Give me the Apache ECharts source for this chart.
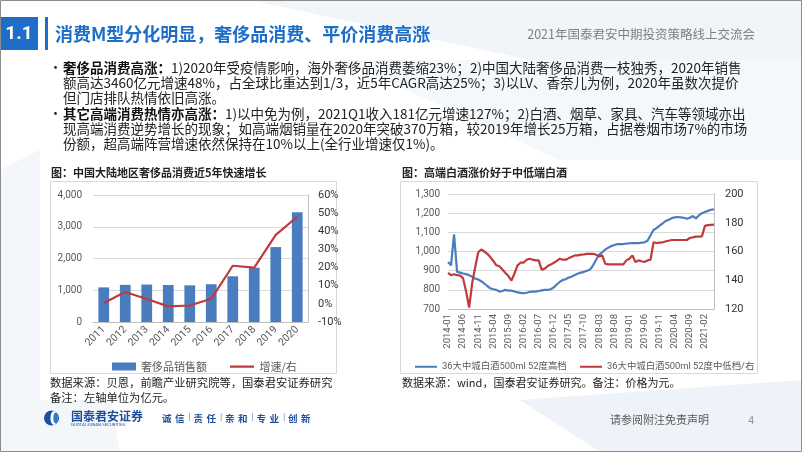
<!DOCTYPE html>
<html><head><meta charset="utf-8">
<script src="https://cdn.jsdelivr.net/npm/echarts@6/dist/echarts.min.js"></script>
<style>html,body{margin:0;padding:0;background:#fff;overflow:hidden}#c{width:802px;height:452px}</style>
</head><body><div id="c"></div><script>
// ---------- Left chart data ----------
const years = ['2011','2012','2013','2014','2015','2016','2017','2018','2019','2020'];
const luxurySales = [1090,1170,1180,1165,1155,1190,1440,1710,2360,3460];
const luxuryGrowth = [0.5,6.5,2.7,-1.4,-0.9,2.8,21,20,38,48];
const leftNames = ['奢侈品销售额','增速/右'];

// ---------- Right chart data ----------
const months = [
 '2014-01','2014-02','2014-03','2014-04','2014-05','2014-06','2014-07','2014-08','2014-09','2014-10','2014-11','2014-12',
 '2015-01','2015-02','2015-03','2015-04','2015-05','2015-06','2015-07','2015-08','2015-09','2015-10','2015-11','2015-12',
 '2016-01','2016-02','2016-03','2016-04','2016-05','2016-06','2016-07','2016-08','2016-09','2016-10','2016-11','2016-12',
 '2017-01','2017-02','2017-03','2017-04','2017-05','2017-06','2017-07','2017-08','2017-09','2017-10','2017-11','2017-12',
 '2018-01','2018-02','2018-03','2018-04','2018-05','2018-06','2018-07','2018-08','2018-09','2018-10','2018-11','2018-12',
 '2019-01','2019-02','2019-03','2019-04','2019-05','2019-06','2019-07','2019-08','2019-09','2019-10','2019-11','2019-12',
 '2020-01','2020-02','2020-03','2020-04','2020-05','2020-06','2020-07','2020-08','2020-09','2020-10','2020-11','2020-12',
 '2021-01','2021-02','2021-03','2021-04','2021-05'];
const highEnd = [
 945,928,1090,894,890,885,882,876,868,859,854,845,
 833,820,808,803,800,791,794,800,796,796,791,787,
 784,782,785,789,791,791,794,797,800,800,803,813,
 828,842,851,856,864,870,878,885,890,894,900,906,
 928,957,984,996,1010,1020,1028,1034,1038,1039,1039,1041,
 1043,1044,1044,1044,1046,1048,1056,1085,1112,1122,1135,1146,
 1159,1166,1174,1178,1180,1178,1176,1171,1176,1185,1173,1188,
 1200,1206,1212,1218,1220];
const midLow = [
 145.1,143.5,144.2,143.5,143.3,141.3,132,121,138,149,159.5,161.4,
 160,158.4,156.1,153.4,150.4,149.7,147.4,145.1,142.9,139.7,144.7,150.4,
 152.2,152.2,154.3,155,154.3,153.8,153.8,147.4,148.1,149.9,150.9,152.2,
 153.4,155,154.3,154.3,155.4,156.3,157.3,157.3,157.8,158,158.4,158.4,
 158.4,157.7,156.6,157.3,151.5,151,151,151,151,151,151,153.8,
 155,157.3,152.7,153.8,153.2,152.7,153.8,154.3,166.4,165.9,166.2,166.4,
 167,167.5,168,168,168,168,168,168,169.4,169.8,170.3,170.4,
 170.5,177.8,178.3,178.5,178.7];
const rightNames = ['36大中城白酒500ml 52度高档','36大中城白酒500ml 52度中低档/右'];

// ---------- Slide texts ----------
const sectionNo = '1.1';
const slideTitle = '消费M型分化明显，奢侈品消费、平价消费高涨';
const eventName = '2021年国泰君安中期投资策略线上交流会';
const bodyLines = [
 ['•','{b|奢侈品消费高涨：}1)2020年受疫情影响，海外奢侈品消费萎缩23%；2)中国大陆奢侈品消费一枝独秀，2020年销售'],
 ['','额高达3460亿元增速48%，占全球比重达到1/3，近5年CAGR高达25%；3)以LV、香奈儿为例，2020年虽数次提价'],
 ['','但门店排队热情依旧高涨。'],
 ['•','{b|其它高端消费热情亦高涨：}1)以中免为例，2021Q1收入181亿元增速127%；2)白酒、烟草、家具、汽车等领域亦出'],
 ['','现高端消费逆势增长的现象；如高端烟销量在2020年突破370万箱，较2019年增长25万箱，占据卷烟市场7%的市场'],
 ['','份额，超高端阵营增速依然保持在10%以上(全行业增速仅1%)。']
];
const leftTitle = '图：中国大陆地区奢侈品消费近5年快速增长';
const rightTitle = '图：高端白酒涨价好于中低端白酒';
const leftSource = ['数据来源：贝恩，前瞻产业研究院等，国泰君安证券研究','备注：左轴单位为亿元。'];
const rightSource = '数据来源：wind，国泰君安证券研究。备注：价格为元。';
const sloganGroups = [['诚','信'],['责','任'],['亲','和'],['专','业'],['创','新']];
const footerNote = '请参阅附注免责声明';
const pageNo = '4';

const FONT = '"Noto Sans CJK SC","Noto Sans",sans-serif';
const LAT = 'Roboto,"Noto Sans CJK SC",sans-serif';
const BLUE = '#1e6ec8';
const C_BAR = '#4a7dbf';
const C_RED = '#c0393b';
const AX = '#595959';
// thin-line legend icon (slivers at top/bottom keep the 8px box)
const LINE_ICON = 'path://M0,0L24,0L24,0.01L0,0.01Z M0,3L24,3L24,5.2L0,5.2Z M0,8L24,8L24,8.01L0,8.01Z';

function txt(x, y, text, size, color, opts) {
  opts = opts || {};
  return {type:'text', x:x, y:y, z:10, silent:true, style:Object.assign({
    text:text, fill:color, fontSize:size, fontFamily:opts.family||FONT, fontWeight:opts.weight||'normal',
    textAlign:opts.align||'left', textVerticalAlign:'middle', align:opts.align||'left', verticalAlign:'middle'
  }, opts.extra||{})};
}

const graphics = [];
// faint background shapes
graphics.push({type:'polygon', z:-5, silent:true, shape:{points:[[250,0],[802,0],[802,60],[530,60]]}, style:{fill:'#f1f5fa'}});
graphics.push({type:'polygon', z:-5, silent:true, shape:{points:[[340,60],[802,60],[802,160],[560,160]]}, style:{fill:'#f5f8fb'}});
graphics.push({type:'polygon', z:-5, silent:true, shape:{points:[[0,170],[40,150],[40,452],[0,452]]}, style:{fill:'#f3f6fa'}});
graphics.push({type:'polygon', z:-5, silent:true, shape:{points:[[520,400],[802,380],[802,452],[600,452]]}, style:{fill:'#eef3f9'}});
graphics.push({type:'polygon', z:-5, silent:true, shape:{points:[[0,400],[110,400],[120,452],[0,452]]}, style:{fill:'#f4f7fa'}});
// frame
graphics.push({type:'rect', z:20, silent:true, shape:{x:0.5,y:0.5,width:801,height:451}, style:{fill:null, stroke:'#8c8c8c', lineWidth:1}});
// header
graphics.push({type:'rect', z:5, silent:true, shape:{x:0,y:17,width:38,height:33}, style:{fill:BLUE}});
graphics.push(txt(19, 34, sectionNo, 19, '#fff', {weight:'bold', align:'center', family:LAT}));
graphics.push({type:'rect', z:5, silent:true, shape:{x:45,y:17,width:3,height:33}, style:{fill:BLUE}});
graphics.push(txt(55, 34, slideTitle, 18, BLUE, {weight:'bold'}));
graphics.push(txt(755, 34, eventName, 12.5, '#7f7f7f', {align:'right'}));
// body
bodyLines.forEach((l, i) => {
  const y = 67.5 + 15.3 * i;
  if (l[0]) graphics.push(txt(49, y, l[0], 13, '#222'));
  graphics.push(txt(63, y, l[1], 13.5, '#222', {extra:{rich:{b:{fontWeight:'bold', fontSize:13.5, fontFamily:FONT, fill:'#111'}}}}));
});
// chart titles & boxes
graphics.push(txt(51, 173, leftTitle, 11, '#222', {weight:'bold'}));
graphics.push(txt(402, 173, rightTitle, 11, '#222', {weight:'bold'}));
graphics.push({type:'rect', z:-1, silent:true, shape:{x:50.5,y:181.5,width:286,height:192}, style:{fill:'#fff', stroke:'#d9d9d9', lineWidth:1}});
graphics.push({type:'rect', z:-1, silent:true, shape:{x:400.5,y:181.5,width:357,height:192}, style:{fill:'#fff', stroke:'#d9d9d9', lineWidth:1}});
graphics.push(txt(50, 383, leftSource[0], 11.3, '#222'));
graphics.push(txt(50, 398, leftSource[1], 11.3, '#222'));
graphics.push(txt(402, 383, rightSource, 11, '#222'));
// footer
graphics.push({type:'circle', z:5, silent:true, shape:{cx:51.5, cy:418, r:7.5}, style:{fill:'#1d4f9f'}});
graphics.push({type:'ellipse', z:6, silent:true, shape:{cx:54, cy:418, rx:3.5, ry:7}, style:{fill:'#fff'}});
graphics.push({type:'ellipse', z:7, silent:true, shape:{cx:55.5, cy:418, rx:2.2, ry:5.5}, style:{fill:'#2a7ad0'}});
graphics.push(txt(71, 416, '国泰君安证券', 12, '#1d4f9f', {weight:'bold'}));
graphics.push(txt(71, 425, 'GUOTAI JUNAN SECURITIES', 4.3, '#1d4f9f', {family:LAT}));
sloganGroups.forEach((g, i) => {
  const gx = 162 + 31.5 * i;
  graphics.push(txt(gx, 418, g[0], 9.5, '#1d4f9f', {weight:'bold'}));
  graphics.push(txt(gx + 13, 418, g[1], 9.5, '#1d4f9f', {weight:'bold'}));
  if (i < sloganGroups.length - 1) graphics.push(txt(gx + 26.5, 418, '|', 9.5, '#6f8fc4', {family:LAT}));
});
graphics.push(txt(610, 420, footerNote, 11, '#595959'));
graphics.push(txt(748, 421, pageNo, 11, '#999', {family:LAT}));

const axLab = {color:AX, fontSize:10, fontFamily:LAT};
const comma = v => Number(v).toLocaleString('en-US');
const legText = {color:AX, fontSize:11, fontFamily:FONT};
const legText2 = {color:AX, fontSize:9.4, fontFamily:LAT};

const option = {
  animation:false,
  backgroundColor:'#fff',
  graphic:{elements:graphics},
  grid:[
    {left:93, right:494, top:195, bottom:130},
    {left:448, right:88, top:194, bottom:143}
  ],
  legend:[
    {data:[{name:leftNames[0], icon:'rect'}], left:107, top:356, itemWidth:24, itemHeight:8, textStyle:legText, itemStyle:{borderWidth:0}},
    {data:[{name:leftNames[1], icon:LINE_ICON}], left:225, top:356, itemWidth:25, itemHeight:8, textStyle:legText, itemStyle:{borderWidth:0}},
    {data:[{name:rightNames[0], icon:LINE_ICON}], left:410, top:357, itemWidth:22, itemHeight:8, itemGap:4, textStyle:legText2, itemStyle:{borderWidth:0}},
    {data:[{name:rightNames[1], icon:LINE_ICON}], left:575, top:357, itemWidth:22, itemHeight:8, itemGap:4, textStyle:legText2, itemStyle:{borderWidth:0}}
  ],
  xAxis:[
    {type:'category', gridIndex:0, data:years, boundaryGap:true,
     axisLine:{lineStyle:{color:'#bfbfbf'}}, axisTick:{show:false},
     axisLabel:Object.assign({rotate:45, margin:6, interval:0}, axLab, {fontSize:10.5})},
    {type:'category', gridIndex:1, data:months, boundaryGap:false,
     axisLine:{lineStyle:{color:'#bfbfbf'}}, axisTick:{show:false},
     axisLabel:Object.assign({rotate:90, margin:5, interval:4}, axLab, {fontSize:9.5})}
  ],
  yAxis:[
    {type:'value', gridIndex:0, min:0, max:4000, interval:1000,
     axisLine:{show:false}, axisTick:{show:false},
     splitLine:{lineStyle:{color:'#d9d9d9'}},
     axisLabel:Object.assign({margin:11, formatter:comma}, axLab)},
    {type:'value', gridIndex:0, position:'right', min:-10, max:60, interval:10,
     axisLine:{show:true, lineStyle:{color:'#bfbfbf'}}, axisTick:{show:false},
     splitLine:{show:false},
     axisLabel:Object.assign({margin:10, formatter:'{value}%'}, axLab, {fontSize:11, color:'#333'})},
    {type:'value', gridIndex:1, min:700, max:1300, interval:100,
     axisLine:{show:false}, axisTick:{show:false},
     splitLine:{lineStyle:{color:'#d9d9d9'}},
     axisLabel:Object.assign({margin:8, formatter:comma}, axLab)},
    {type:'value', gridIndex:1, position:'right', min:120, max:200, interval:20,
     axisLine:{show:true, lineStyle:{color:'#bfbfbf'}}, axisTick:{show:false},
     splitLine:{show:false},
     axisLabel:Object.assign({margin:11}, axLab, {fontSize:11, color:'#333'})}
  ],
  series:[
    {name:leftNames[0], type:'bar', xAxisIndex:0, yAxisIndex:0, data:luxurySales, barWidth:'50%',
     itemStyle:{color:C_BAR}},
    {name:leftNames[1], type:'line', xAxisIndex:0, yAxisIndex:1, data:luxuryGrowth, symbol:'none', showSymbol:false,
     lineStyle:{color:C_RED, width:2.2}, itemStyle:{color:C_RED}},
    {name:rightNames[0], type:'line', xAxisIndex:1, yAxisIndex:2, data:highEnd, symbol:'none', showSymbol:false,
     lineStyle:{color:C_BAR, width:2.2}, itemStyle:{color:C_BAR}},
    {name:rightNames[1], type:'line', xAxisIndex:1, yAxisIndex:3, data:midLow, symbol:'none', showSymbol:false,
     lineStyle:{color:C_RED, width:2.2}, itemStyle:{color:C_RED}}
  ]
};
const chart = echarts.init(document.getElementById('c'), null, {renderer:'canvas'});
chart.setOption(option);
</script></body></html>
